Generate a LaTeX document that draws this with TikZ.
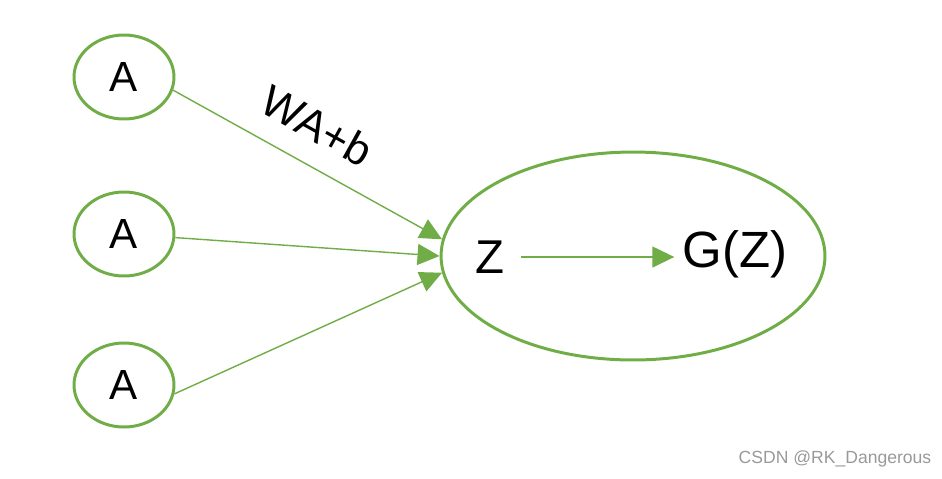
\documentclass[tikz,border=0pt]{standalone}
\usepackage{fontspec}
\setmainfont{Liberation Sans}
\usepackage{tikz}
\usetikzlibrary{%
	arrows.meta,%
	shapes.geometric
}
\definecolor{leaf}{HTML}{70AD47}
\tikzset{
	unit/.style={ellipse,draw=leaf,line width=1.7pt,inner sep=0pt,
		minimum width=2cm,minimum height=1.68cm,font=\fontsize{24}{28}\selectfont},
	body/.style={ellipse,draw=leaf,line width=1.7pt,inner sep=0pt,
		minimum width=7.68cm,minimum height=4.16cm},
	link/.style={draw=leaf,line width=0.8pt,-{Triangle[length=0.44cm,width=0.42cm]}},
	lbl/.style={inner sep=0.2cm}
}

\begin{document}
\begin{tikzpicture}[x=0.02cm,y=-0.02cm]
			\useasboundingbox (0,0) rectangle (942,478);
			% Inputs
			\node[unit] (a1) at (124,77) {A};
			\node[unit] (a2) at (124,234) {A};
			\node[unit] (a3) at (124,385) {A};
			
			% Neuron
			\node[body] (zz) at (633,256) {};
			\node[lbl,inner sep=0.32cm,font=\fontsize{27}{30}\selectfont] (zl) at (490,257) {Z};
			\node[lbl,inner sep=0.16cm,font=\fontsize{29}{33}\selectfont] (gz) at (735,254) {G(Z)};
			
			% Arrows and labels
			\draw[link] (a1.-15) -- (zz.175);
			\draw[link] (a2.-4) -- (zz.180);
			\draw[link] (a3.-10) -- (zz.185);
			\draw[link] (zl.east) -- (zl.east -| gz.west);
			\node[rotate=-29,font=\fontsize{25}{28}\selectfont] (wab) at (317,126) {WA+b};
			
			\node[text=gray!80,font=\fontsize{10}{12}\selectfont] (mark) at (835,459) {CSDN @RK\_Dangerous};
		\end{tikzpicture}
\end{document}
